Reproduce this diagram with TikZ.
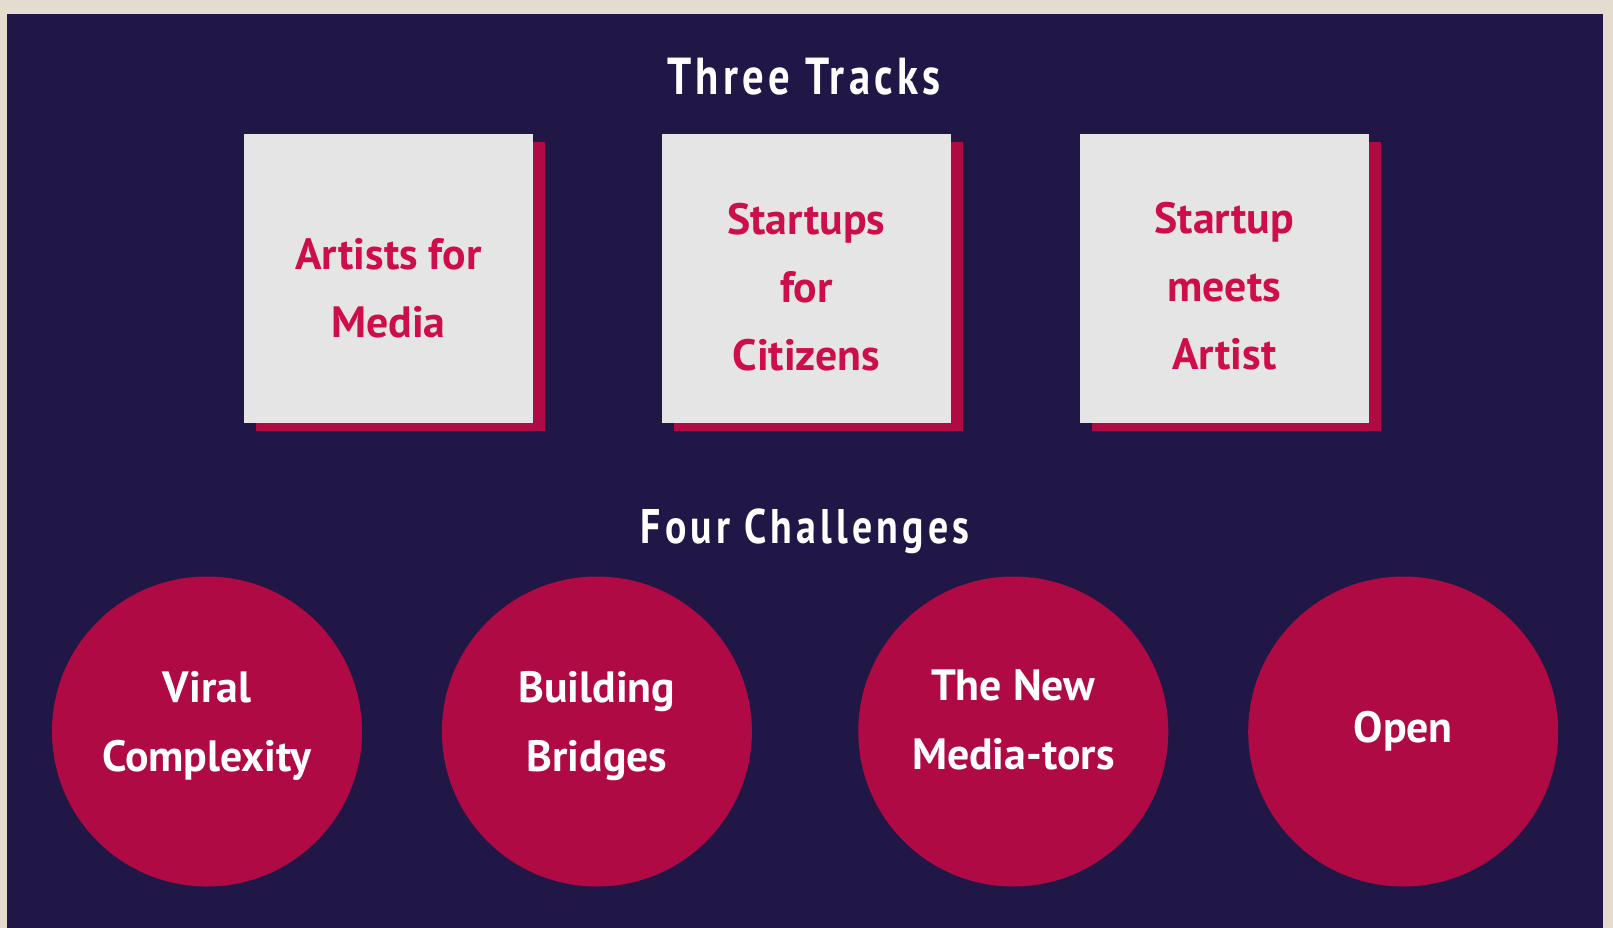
\documentclass[tikz,border=0pt]{standalone}
\usepackage{fontspec}
\setmainfont{PT Sans}
\newfontfamily\titlefont[FakeStretch=0.82, LetterSpace=8.5]{PT Sans}
\usetikzlibrary{positioning, shadows}
\definecolor{pagebg}{HTML}{E4DCCE}
\definecolor{navybg}{HTML}{201747}
\definecolor{boxgrey}{HTML}{E5E5E5}
\definecolor{crimson}{HTML}{B00A45}
\definecolor{crimsontext}{HTML}{CE0E4A}
\tikzset{
    track_box/.style={rectangle, minimum width=289pt, minimum height=289pt, inner sep=0pt, fill=boxgrey, text=crimsontext, align=center, font=\bfseries\fontsize{43.8pt}{68pt}\selectfont, drop shadow={shadow xshift=12pt, shadow yshift=-8pt, fill=crimson, opacity=1}},
    challenge_circ/.style={circle, minimum size=310pt, inner sep=0pt, fill=crimson, text=white, align=center, font=\bfseries\fontsize{43.8pt}{69pt}\selectfont},
    heading/.style={anchor=base, text=white, inner sep=0pt},
    last_line/.style={text height=#1, text depth=0pt},
}
\begin{document}
\begin{tikzpicture}[x=1pt, y=-1pt, node distance=128.5pt]
      \useasboundingbox (0,0) rectangle (1613,928);
      \fill [pagebg] (0,0) rectangle (1613,928);
      \fill [navybg] (7,14) rectangle (1603,928);

      %%%%%%%%%%%%%%%%
      % Three Tracks %
      %%%%%%%%%%%%%%%%
      \node (tracks_title) [heading, font=\titlefont\bfseries\fontsize{52pt}{60pt}\selectfont] at (804,95)
          {Three Tracks};
      \node (artists) [track_box, last_line=117.6pt] at (388.5,278.5)
          {Artists for\\Media};
      \node (citizens) [track_box, last_line=183pt, right = of artists]
          {Startups\\for\\Citizens};
      \node (meets) [track_box, last_line=182pt, right = of citizens]
          {Startup\\meets\\Artist};

      %%%%%%%%%%%%%%%%%%%
      % Four Challenges %
      %%%%%%%%%%%%%%%%%%%
      \node (challenges_title) [heading, font=\titlefont\bfseries\fontsize{48.6pt}{56pt}\selectfont] at (805,543.3)
          {Four Challenges};
      \node (viral) [challenge_circ, last_line=80.4pt] at (207,731.5)
          {Viral\\Complexity};
      \node (bridges) [challenge_circ, last_line=80.4pt, right = 79.5pt of viral]
          {Building\\Bridges};
      \node (mediators) [challenge_circ, last_line=75.6pt, right = 106pt of bridges]
          {The New\\Media-tors};
      \node (open) [challenge_circ, right = 79.5pt of mediators]
          {Open};
\end{tikzpicture}
\end{document}
